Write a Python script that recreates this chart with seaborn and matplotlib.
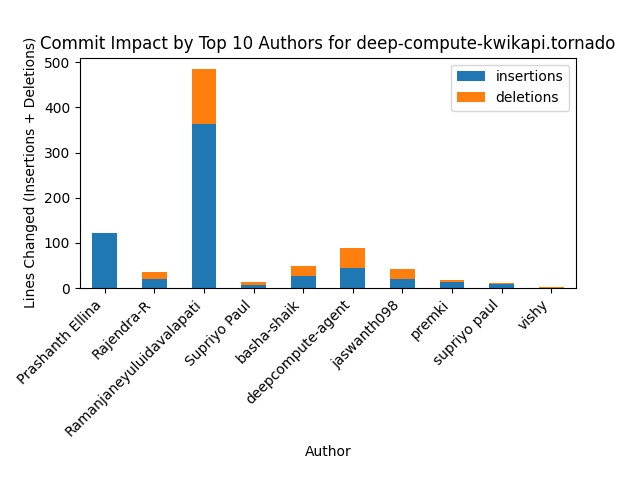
import matplotlib
matplotlib.use("Agg")
import matplotlib.pyplot as plt
import seaborn as sns
import pandas as pd
from matplotlib.patches import Patch

authors = ["Prashanth Ellina", "Rajendra-R", "Ramanjaneyuluidavalapati", "Supriyo Paul",
           "basha-shaik", "deepcompute-agent", "jaswanth098", "premki", "supriyo paul", "vishy"]
insertions = [122, 20, 364, 6, 27, 44, 20, 13, 9, 0]
deletions = [0, 16, 122, 7, 22, 45, 22, 5, 2, 2]

df = pd.DataFrame({"Author": authors, "insertions": insertions, "deletions": deletions})
df["total"] = df["insertions"] + df["deletions"]

fig, ax = plt.subplots(figsize=(6.4, 4.8), dpi=100)
sns.barplot(data=df, x="Author", y="total", color="#ff7f0e", saturation=1, width=0.5, ax=ax)
sns.barplot(data=df, x="Author", y="insertions", color="#1f77b4", saturation=1, width=0.5, ax=ax)
ax.set_xlim(-0.5, len(authors) - 0.5)
ax.set_ylim(0, df["total"].max() * 1.05)
ax.set_title("Commit Impact by Top 10 Authors for deep-compute-kwikapi.tornado")
ax.set_xlabel("Author")
ax.set_ylabel("Lines Changed (Insertions + Deletions)")
plt.setp(ax.get_xticklabels(), rotation=45, ha="right")
ax.legend(handles=[Patch(facecolor="#1f77b4", label="insertions"),
                   Patch(facecolor="#ff7f0e", label="deletions")], loc="upper right")
fig.subplots_adjust(left=0.125, right=0.9, top=0.88, bottom=0.4)
fig.savefig("out.png", dpi=100)
